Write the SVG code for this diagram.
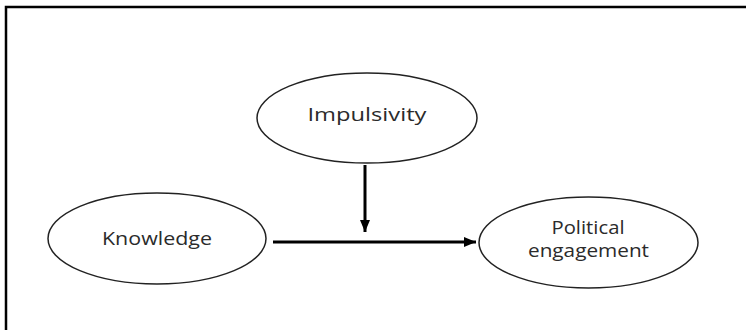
<svg xmlns="http://www.w3.org/2000/svg" width="746" height="330" viewBox="0 0 746 330">
  <defs>
    <style>
      .node ellipse { fill: #ffffff; stroke: #222222; stroke-width: 1.5; }
      .node text { font-family: "Open Sans", "Noto Sans", sans-serif; font-size: 18px; fill: #2b2b2b; text-anchor: middle; }
      .conn { stroke: #000000; stroke-width: 3; fill: none; }
    </style>
    <marker id="head" markerUnits="userSpaceOnUse" markerWidth="12" markerHeight="12" viewBox="0 0 12 12" refX="12" refY="6" orient="auto">
      <path d="M0,1 L12,6 L0,11 Z" fill="#000000"/>
    </marker>
  </defs>
  <rect width="746" height="330" fill="#ffffff"/>
  <path d="M6,330 V7 H746" fill="none" stroke="#000000" stroke-width="2.5"/>

  <g id="connectors">
    <line class="conn" x1="273" y1="242" x2="476" y2="242" marker-end="url(#head)"/>
    <line class="conn" x1="365" y1="165" x2="365" y2="232" marker-end="url(#head)"/>
  </g>

  <g id="impulsivity" class="node">
    <ellipse cx="367" cy="118" rx="110" ry="45"/>
    <text x="367" y="121" textLength="119" lengthAdjust="spacingAndGlyphs">Impulsivity</text>
  </g>
  <g id="knowledge" class="node">
    <ellipse cx="157" cy="238.5" rx="109" ry="45.5"/>
    <text x="157" y="245" textLength="110" lengthAdjust="spacingAndGlyphs">Knowledge</text>
  </g>
  <g id="political-engagement" class="node">
    <ellipse cx="588.5" cy="242.5" rx="109.5" ry="45.5"/>
    <text x="588" y="234" textLength="73" lengthAdjust="spacingAndGlyphs">Political</text>
    <text x="588.5" y="257" textLength="121" lengthAdjust="spacingAndGlyphs">engagement</text>
  </g>
</svg>
